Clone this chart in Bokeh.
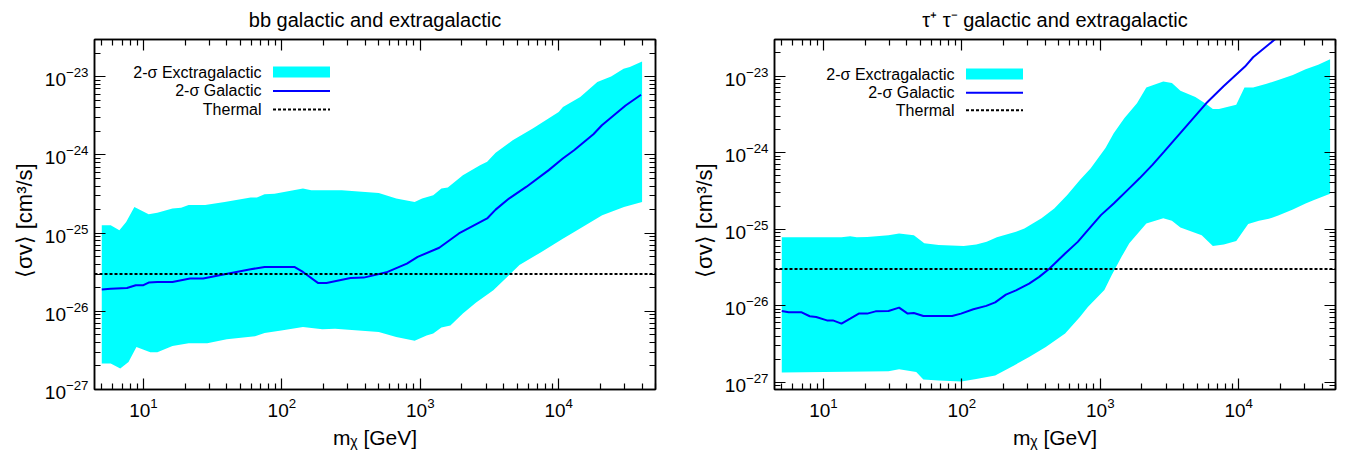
from bokeh.plotting import figure
from bokeh.layouts import row
from bokeh.models import (FixedTicker, LogAxis, Label, BoxAnnotation,
                          Arrow, Range1d, Span, CustomJSTickFormatter)
from bokeh.embed import file_html
from bokeh.resources import INLINE

FONT = "Liberation Sans"

# ---------------- data: b b-bar panel ----------------
bb_upper_mass = [5, 5.8, 6.7, 7.5, 8.6, 10.9, 12.6, 16.2, 18.7, 21.2, 27.9, 38.6, 59.5, 66, 75, 88.5,
                 142, 163, 271, 501, 670, 910, 1030, 1240, 1420, 1580, 2030, 2700, 3040, 3500, 4650,
                 6490, 9990, 10730, 14300, 19000, 23900, 29400, 32600, 40000]
bb_upper = [1.26e-25, 1.26e-25, 1.09e-25, 1.39e-25, 2.16e-25, 1.75e-25, 1.83e-25, 2.06e-25, 2.12e-25,
            2.29e-25, 2.29e-25, 2.5e-25, 2.85e-25, 2.85e-25, 3.14e-25, 3.2e-25, 3.72e-25, 3.55e-25,
            3.55e-25, 3.27e-25, 2.77e-25, 2.51e-25, 2.77e-25, 3.05e-25, 3.72e-25, 3.85e-25, 5.5e-25,
            7.4e-25, 8.2e-25, 1.07e-24, 1.54e-24, 2.18e-24, 3.55e-24, 4.1e-24, 5.5e-24, 8.6e-24,
            1.01e-23, 1.27e-23, 1.33e-23, 1.57e-23]
bb_lower_mass = [5, 5.8, 6.8, 7.8, 8.9, 11.2, 12.6, 16.2, 21.2, 28.9, 40, 64, 75, 99, 142, 196, 242,
                 501, 670, 910, 1110, 1240, 1420, 1650, 2030, 2530, 3370, 5200, 7500, 10700, 12400,
                 20600, 29600, 40000]
bb_lower = [2.15e-27, 2.15e-27, 1.86e-27, 2.25e-27, 3.5e-27, 3.0e-27, 3.0e-27, 3.6e-27, 3.9e-27,
            3.9e-27, 4.4e-27, 4.8e-27, 5.3e-27, 5.7e-27, 6.3e-27, 5.9e-27, 6.0e-27, 5.45e-27, 4.7e-27,
            4.2e-27, 4.9e-27, 5.2e-27, 6.2e-27, 6.6e-27, 9.4e-27, 1.3e-26, 1.86e-26, 3.9e-26, 5.75e-26,
            8.5e-26, 9.9e-26, 1.7e-25, 2.16e-25, 2.5e-25]
bb_gal_mass = [5, 5.8, 7.6, 8.8, 10, 10.9, 12.6, 16.2, 21.7, 27, 38.6, 59.5, 75, 123, 142, 182, 210,
               313, 390, 580, 800, 957, 1370, 1900, 3040, 3500, 4370, 5820, 8470, 10700, 12900, 17800,
               20500, 30400, 39300]
bb_gal = [1.9e-26, 1.95e-26, 1.99e-26, 2.16e-26, 2.16e-26, 2.33e-26, 2.37e-26, 2.37e-26, 2.63e-26,
          2.63e-26, 2.98e-26, 3.45e-26, 3.7e-26, 3.7e-26, 3.19e-26, 2.31e-26, 2.31e-26, 2.67e-26,
          2.7e-26, 3.19e-26, 4.08e-26, 4.97e-26, 6.5e-26, 9.9e-26, 1.54e-25, 2.0e-25, 2.77e-25,
          3.9e-25, 6.4e-25, 9.0e-25, 1.15e-24, 1.84e-24, 2.4e-24, 4.3e-24, 5.9e-24]

# ---------------- data: tau+ tau- panel ----------------
tt_upper_mass = [5, 13.5, 15.6, 17.4, 20.7, 29.5, 35.2, 45, 53.5, 68, 103, 127, 151, 179, 246, 283,
                 376, 465, 577, 712, 850, 1090, 1250, 1490, 1840, 2150, 2850, 3290, 3790, 4860, 5820,
                 6500, 7200, 9590, 11000, 12700, 15900, 19300, 24600, 30400, 37500, 45700]
tt_upper = [7.8e-26, 7.8e-26, 8.07e-26, 7.8e-26, 7.9e-26, 8.3e-26, 8.75e-26, 8.3e-26, 6.5e-26, 6.2e-26,
            6.0e-26, 6.3e-26, 6.8e-26, 7.8e-26, 9.2e-26, 1.02e-25, 1.38e-25, 1.86e-25, 2.78e-25,
            4.37e-25, 6.2e-25, 1.15e-24, 1.78e-24, 2.8e-24, 4.4e-24, 7.1e-24, 8.45e-24, 8.1e-24,
            6.4e-24, 5.3e-24, 4.3e-24, 3.7e-24, 3.7e-24, 4.2e-24, 7.1e-24, 7.1e-24, 7.9e-24, 8.9e-24,
            1.03e-23, 1.23e-23, 1.4e-23, 1.66e-23]
tt_lower_mass = [5, 29.5, 35.2, 46.8, 52.7, 68, 99, 127, 174, 238, 306, 404, 557, 712, 813, 1070, 1210,
                 1430, 1620, 2150, 2850, 3290, 3790, 5400, 6500, 7800, 9600, 11700, 14000, 16500, 19300,
                 24600, 30400, 35000, 45700]
tt_lower = [1.33e-27, 1.39e-27, 1.47e-27, 1.35e-27, 1.08e-27, 1.05e-27, 1.02e-27, 1.1e-27, 1.22e-27,
            1.65e-27, 2.12e-27, 2.87e-27, 4.3e-27, 7.1e-27, 9.6e-27, 1.6e-26, 2.5e-26, 4.4e-26, 6.5e-26,
            1.18e-25, 1.38e-25, 1.28e-25, 1.05e-25, 8.3e-26, 6.0e-26, 6.3e-26, 7.0e-26, 1.16e-25,
            1.28e-25, 1.36e-25, 1.5e-25, 1.8e-25, 2.16e-25, 2.4e-25, 2.9e-25]
tt_gal_mass = [5, 5.6, 6.9, 7.96, 8.86, 10.6, 11.7, 13.5, 15.6, 18, 20.7, 23.8, 29.5, 35.2, 40.6, 45,
               52.7, 85, 98.6, 121, 150, 174, 208, 246, 306, 362, 430, 557, 687, 813, 1010, 1250, 1660,
               1920, 2380, 2880, 5820, 7800, 11100, 12700, 18200, 20000]
tt_gal = [8.5e-27, 8.2e-27, 8.2e-27, 7.25e-27, 7.1e-27, 6.4e-27, 6.4e-27, 5.8e-27, 6.75e-27, 7.85e-27,
          7.85e-27, 8.4e-27, 8.5e-27, 9.4e-27, 7.85e-27, 8.0e-27, 7.3e-27, 7.3e-27, 7.85e-27, 8.95e-27,
          9.9e-27, 1.1e-26, 1.39e-26, 1.58e-26, 1.94e-26, 2.37e-26, 3.05e-26, 4.8e-26, 6.8e-26,
          9.7e-26, 1.52e-25, 2.16e-25, 3.56e-25, 4.6e-25, 6.9e-25, 1.02e-24, 4.4e-24, 7.4e-24,
          1.33e-23, 1.76e-23, 3.0e-23, 3.6e-23]

thermal = 3e-26

legend_labels = ["2-\u03c3 Exctragalactic", "2-\u03c3 Galactic", "Thermal"]
titles = ["bb galactic and extragalactic", "\u03c4\u207a \u03c4\u207b galactic and extragalactic"]
x_label = "m\u1d6a [GeV]"
y_label = "\u27e8\u03c3v\u27e9   [cm\u00b3/s]"

x_major = [10, 100, 1000, 10000]
x_minor = [m * 10 ** e for e in range(0, 5) for m in range(2, 10)]
y_major = [10.0 ** e for e in range(-28, -21)]
y_minor = [m * 10.0 ** e for e in range(-28, -22) for m in range(2, 10)]

X_MIN, X_MAX = 4.43, 5e4
Y_MAX = 3e-23


def style_axis(ax, labels=True):
    ax.axis_line_color = "black"
    ax.axis_line_width = 1.5
    ax.major_tick_in = 11
    ax.major_tick_out = 0
    ax.minor_tick_in = 6
    ax.minor_tick_out = 0
    ax.major_tick_line_color = "black"
    ax.minor_tick_line_color = "black"
    ax.major_tick_line_width = 1.2
    ax.minor_tick_line_width = 1.2
    ax.major_label_text_font = FONT
    ax.major_label_text_color = "black"
    ax.major_label_text_font_size = "19px"
    ax.axis_label_text_font = FONT
    ax.axis_label_text_font_size = "21px"
    ax.axis_label_text_font_style = "normal"
    ax.axis_label_text_color = "black"
    if not labels:
        ax.formatter = CustomJSTickFormatter(code="return ''")
        ax.major_label_text_color = None
        ax.major_label_standoff = 0


def make_panel(width, border_right, ylo, title, up_m, up, lo_m, lo, gal_m, gal, leg_x, leg_rows):
    p = figure(width=width, height=456, x_axis_type="log", y_axis_type="log",
               x_range=Range1d(X_MIN, X_MAX), y_range=Range1d(ylo, Y_MAX),
               output_backend="svg", toolbar_location=None,
               min_border_left=94, min_border_right=border_right,
               min_border_top=39, min_border_bottom=67)
    p.grid.visible = False
    p.outline_line_color = "black"
    p.outline_line_width = 1.5
    p.background_fill_color = "white"
    p.border_fill_color = "white"

    p.title.text = title
    p.title.align = "center"
    p.title.vertical_align = "top"
    p.title.text_font = FONT
    p.title.text_font_size = "20px"
    p.title.text_font_style = "normal"
    p.title.text_color = "black"
    p.title.standoff = 13

    xs = list(up_m) + list(lo_m)[::-1]
    ys = list(up) + list(lo)[::-1]
    p.patch(xs, ys, fill_color="#00ffff", line_color=None)
    p.line(gal_m, gal, line_color="#0000ff", line_width=2)
    p.add_layout(Span(location=thermal, dimension="width", line_color="black",
                      line_width=2, line_dash="3 2"))

    p.xaxis.ticker = FixedTicker(ticks=x_major, minor_ticks=x_minor)
    p.yaxis.ticker = FixedTicker(ticks=y_major, minor_ticks=y_minor)
    style_axis(p.xaxis[0])
    style_axis(p.yaxis[0])
    p.xaxis.major_label_standoff = 8
    p.yaxis.major_label_standoff = 6
    p.xaxis.axis_label = x_label
    p.xaxis.axis_label_standoff = 6
    p.yaxis.axis_label = y_label
    p.yaxis.axis_label_text_font_size = "22px"
    p.yaxis.axis_label_standoff = 5

    top = LogAxis(ticker=FixedTicker(ticks=x_major, minor_ticks=x_minor))
    style_axis(top, labels=False)
    right = LogAxis(ticker=FixedTicker(ticks=y_major, minor_ticks=y_minor))
    style_axis(right, labels=False)
    p.add_layout(top, "above")
    p.add_layout(right, "right")

    # legend (gnuplot style: text right-aligned, sample on the right)
    for lab, ry in zip(legend_labels, leg_rows):
        p.add_layout(Label(x=leg_x, y=ry, x_units="screen", y_units="screen", text=lab,
                           text_align="right", text_baseline="middle", text_font=FONT,
                           text_font_size="16px", text_color="black"))
    s0, s1 = leg_x + 11.5, leg_x + 68.5
    p.add_layout(BoxAnnotation(left=s0, right=s1, bottom=leg_rows[0] - 5.5, top=leg_rows[0] + 5.5,
                               left_units="screen", right_units="screen",
                               bottom_units="screen", top_units="screen",
                               fill_color="#00ffff", fill_alpha=1, line_color=None))
    p.add_layout(Arrow(end=None, x_start=s0, y_start=leg_rows[1], x_end=s1, y_end=leg_rows[1],
                       start_units="screen", end_units="screen", line_color="#0000ff", line_width=2))
    p.add_layout(Arrow(end=None, x_start=s0, y_start=leg_rows[2], x_end=s1, y_end=leg_rows[2],
                       start_units="screen", end_units="screen", line_color="black", line_width=2,
                       line_dash="3 2"))
    return p


p1 = make_panel(680, 25, 1e-27, titles[0], bb_upper_mass, bb_upper, bb_lower_mass, bb_lower,
                bb_gal_mass, bb_gal, 167, [317.5, 298.6, 280])
p2 = make_panel(666, 11, 8e-28, titles[1], tt_upper_mass, tt_upper, tt_lower_mass, tt_lower,
                tt_gal_mass, tt_gal, 180, [315.5, 296.8, 279.3])

layout = row(p1, p2)
open("out.html", "w").write(file_html(layout, INLINE))
